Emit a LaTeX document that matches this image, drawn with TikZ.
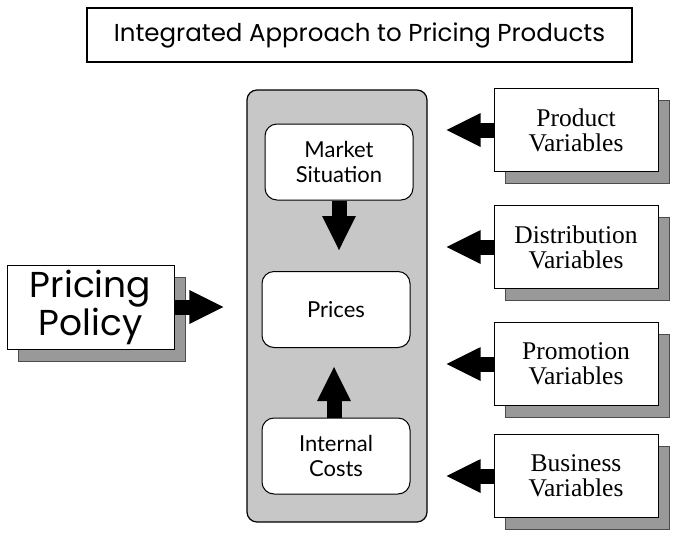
\documentclass[tikz,border=0pt]{standalone}
\usepackage{fontspec}
\newfontfamily\gothic{Poppins}
\newfontfamily\optima{Lato}
\newfontfamily\serifv{Liberation Serif}
\usetikzlibrary{arrows.meta,shadows}
\begin{document}
\begin{tikzpicture}[x=1pt,y=-1pt,
  titlebox/.style={draw=black, line width=1.3pt, fill=white, minimum width=545pt, minimum height=54pt, inner sep=0pt, font=\gothic\fontsize{24.5}{26}\selectfont},
  column/.style={draw=black, line width=1.2pt, fill=black!22, rounded corners=10pt, minimum width=180pt, minimum height=432pt, inner sep=0pt},
  innerbox/.style={draw=black, line width=1pt, fill=white, rounded corners=12pt, minimum width=148pt, minimum height=76pt, inner sep=0pt, align=center, font=\optima\fontsize{22}{25}\selectfont},
  shadowed/.style={draw=black, line width=1pt, fill=white, inner sep=0pt, align=center,
    drop shadow={shadow xshift=11pt, shadow yshift=-12pt, fill=black!40, draw=black!70, opacity=1}},
  varbox/.style={shadowed, minimum width=164pt, minimum height=83pt, font=\serifv\fontsize{25.5}{25}\selectfont},
  policybox/.style={shadowed, minimum width=167pt, minimum height=84pt, font=\gothic\fontsize{36}{37}\selectfont},
  blockarrow/.style={line width=15pt, draw=black, -{Triangle[length=35pt,width=31pt]}}
  ]
\useasboundingbox (0,0) rectangle (680,536);
\node[titlebox] (title) at (359.5,35) {Integrated Approach to Pricing Products};
\node[column] (col) at (337,306) {};
\node[innerbox] (ms) at (339,162) {Market\\Situation};
\node[innerbox] (pr) at (336,309.5) {Prices};
\node[innerbox] (ic) at (336,456) {Internal\\Costs};
\node[policybox] (pp) at (90.5,307) {Pricing\\Policy};
\node[varbox] (pv) at (576,130) {Product\\Variables};
\node[varbox] (dv) at (576,247) {Distribution\\Variables};
\node[varbox] (mv) at (576,364) {Promotion\\Variables};
\node[varbox] (bv) at (576,476) {Business\\Variables};
\draw[blockarrow, shorten >=20pt] (ms.south) -- (ms.south |- pr.north);
\draw[blockarrow, shorten >=18pt] (ic.north -| 334,0) -- (pr.south -| 334,0);
\draw[blockarrow, shorten >=22pt] (pp.east) -- (pp.east -| col.west);
\foreach \b in {pv,dv,mv,bv}{
  \draw[blockarrow, shorten >=18pt] (\b.west) -- (\b.west -| col.east);
}
\end{tikzpicture}
\end{document}
